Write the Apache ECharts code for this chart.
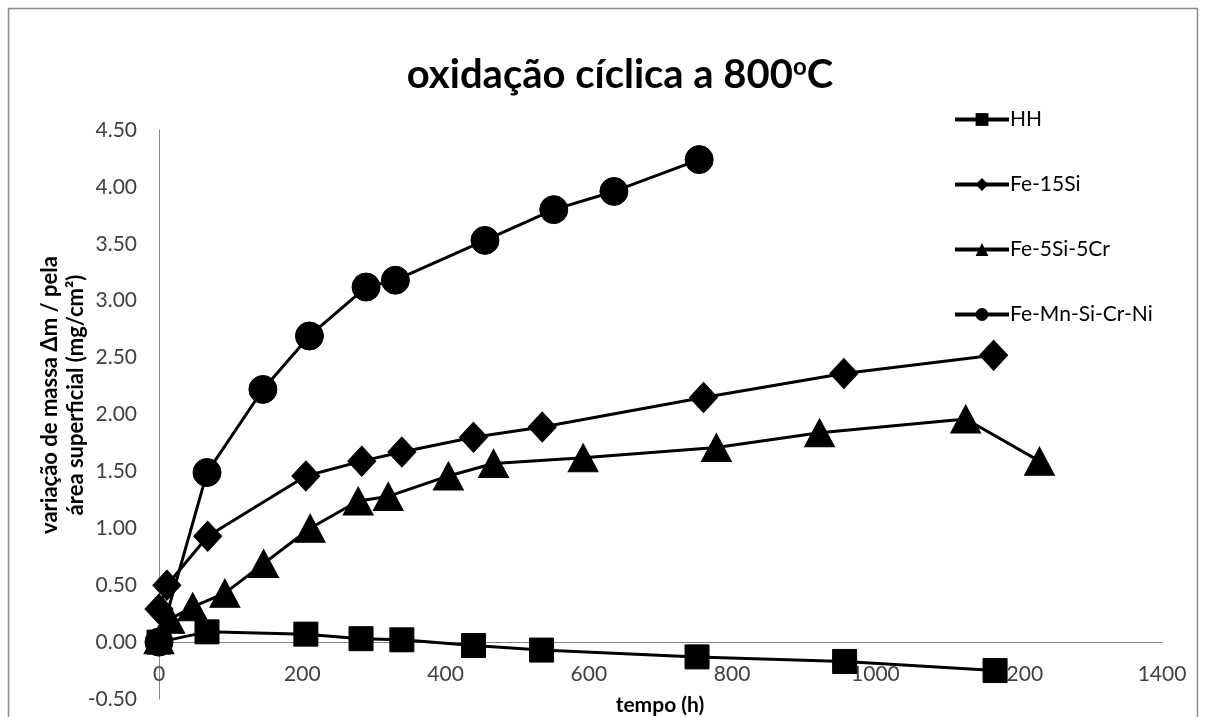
<!DOCTYPE html>
<html>
<head>
<meta charset="utf-8">
<script src="https://cdn.jsdelivr.net/npm/echarts@6/dist/echarts.min.js"></script>
<style>
html,body{margin:0;padding:0;background:#fff;}
#chart{width:1206px;height:717px;}
</style>
</head>
<body>
<div id="chart"></div>
<script>
// ---- data (tempo in h, variação de massa in mg/cm²) ----
const seriesNames = ['HH', 'Fe-15Si', 'Fe-5Si-5Cr', 'Fe-Mn-Si-Cr-Ni'];

const hhT = [0, 67, 205, 282, 339, 439, 534, 751, 957, 1167];
const hhV = [0.00, 0.09, 0.07, 0.03, 0.02, -0.03, -0.07, -0.13, -0.17, -0.25];

const fe15SiT = [0, 11, 68, 205, 283, 339, 439, 535, 760, 956, 1165];
const fe15SiV = [0.29, 0.50, 0.93, 1.46, 1.59, 1.67, 1.80, 1.89, 2.15, 2.36, 2.52];

const fe5Si5CrT = [0, 15, 47, 92, 146, 211, 278, 320, 404, 467, 592, 778, 922, 1126, 1229];
const fe5Si5CrV = [0.02, 0.20, 0.31, 0.43, 0.69, 1.00, 1.24, 1.28, 1.46, 1.57, 1.62, 1.71, 1.84, 1.96, 1.59];

const feMnT = [0, 67, 145, 210, 289, 330, 455, 551, 635, 754];
const feMnV = [0.00, 1.49, 2.22, 2.69, 3.12, 3.18, 3.53, 3.80, 3.96, 4.24];

const xTicks = [0, 200, 400, 600, 800, 1000, 1200, 1400];
const yTicks = [-0.50, 0.00, 0.50, 1.00, 1.50, 2.00, 2.50, 3.00, 3.50, 4.00, 4.50];

const zip = (t, v) => t.map((x, i) => [x, v[i]]);

const FONT = 'Lato, "Open Sans", sans-serif';
const GRID_TOP = 130, GRID_BOTTOM_PX = 699;
const yMin = yTicks[0], yMax = yTicks[yTicks.length - 1];
// x axis sits on the value 0 of the y axis (with its labels just under it)
const zeroOffset = -(0 - yMin) / (yMax - yMin) * (GRID_BOTTOM_PX - GRID_TOP);

const chart = echarts.init(document.getElementById('chart'));

const baseLine = {
  type: 'line',
  lineStyle: { color: '#000', width: 3 },
  itemStyle: { color: '#000', borderColor: '#000' },
  emphasis: { disabled: true },
  animation: false
};

chart.setOption({
  backgroundColor: '#fff',
  animation: false,
  title: {
    text: 'oxidação cíclica a 800{s|o}C',
    left: 615, top: 50, textAlign: 'center',
    textStyle: {
      fontFamily: FONT, fontWeight: 'bold', fontSize: 40, color: '#000',
      rich: { s: { fontFamily: FONT, fontWeight: 'bold', fontSize: 24, color: '#000', verticalAlign: 'top', padding: [0, 0, 16, 0] } }
    }
  },
  legend: {
    orient: 'vertical',
    left: 948, top: 104,
    itemWidth: 54, itemHeight: 16,
    itemGap: 44,
    data: seriesNames,
    lineStyle: { width: 4, color: '#000' },
    textStyle: { fontFamily: FONT, fontSize: 21, color: '#000', padding: [0, 0, 0, -4] }
  },
  grid: { left: 159, right: 44, top: GRID_TOP, bottom: 717 - GRID_BOTTOM_PX, containLabel: false, outerBoundsMode: 'none' },
  xAxis: {
    type: 'value',
    min: xTicks[0], max: xTicks[xTicks.length - 1], interval: 200,
    offset: zeroOffset,
    axisLine: { onZero: false, lineStyle: { color: '#868686', width: 1 } },
    axisTick: { show: false },
    splitLine: { show: false },
    axisLabel: { fontFamily: FONT, fontSize: 21, color: '#404040', margin: 22, formatter: v => String(v) }
  },
  yAxis: {
    type: 'value',
    min: yMin, max: yMax, interval: 0.5,
    axisLine: { show: true, lineStyle: { color: '#868686', width: 1 } },
    axisTick: { show: false },
    splitLine: { show: false },
    axisLabel: { fontFamily: FONT, fontSize: 21, color: '#404040', margin: 22, formatter: v => v.toFixed(2) }
  },
  graphic: [
    { type: 'rect', shape: { x: 8.5, y: 8.5, width: 1189, height: 720 }, style: { fill: 'none', stroke: '#8c8c8c', lineWidth: 1.5 }, silent: true },
    { type: 'text', x: 50, y: 395, rotation: Math.PI / 2, style: { text: 'variação de massa Δm / pela', font: 'bold 22px ' + FONT, fill: '#000', textAlign: 'center', textVerticalAlign: 'middle' } },
    { type: 'text', x: 76, y: 395, rotation: Math.PI / 2, style: { text: 'área superficial (mg/cm²)', font: 'bold 22px ' + FONT, fill: '#000', textAlign: 'center', textVerticalAlign: 'middle' } },
    { type: 'text', x: 660, y: 705, style: { text: 'tempo (h)', font: 'bold 21px ' + FONT, fill: '#000', textAlign: 'center', textVerticalAlign: 'middle' } }
  ],
  series: [
    Object.assign({}, baseLine, { name: seriesNames[0], data: zip(hhT, hhV), symbol: 'rect', symbolSize: 24 }),
    Object.assign({}, baseLine, { name: seriesNames[1], data: zip(fe15SiT, fe15SiV), symbol: 'diamond', symbolSize: [28, 30] }),
    Object.assign({}, baseLine, { name: seriesNames[2], data: zip(fe5Si5CrT, fe5Si5CrV), symbol: 'triangle', symbolSize: [30, 28] }),
    Object.assign({}, baseLine, { name: seriesNames[3], data: zip(feMnT, feMnV), symbol: 'circle', symbolSize: 28 })
  ]
});
</script>
</body>
</html>
